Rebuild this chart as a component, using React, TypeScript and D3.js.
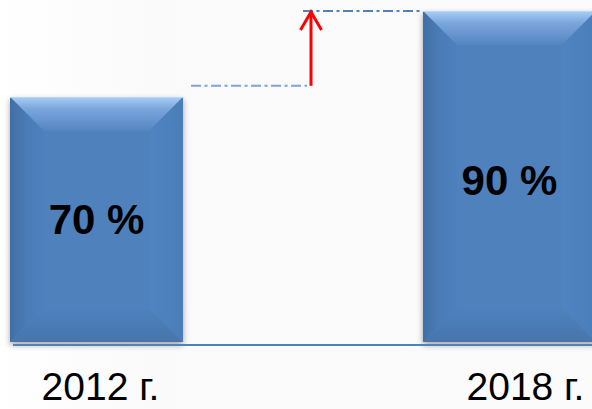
import React from "react";
import * as d3 from "d3";

const categories = ["2012 г.", "2018 г."];
const values = [70, 90];
const valueLabels = ["70 %", "90 %"];
const levelFrom = 72.6;
const levelTo = 90;

const W = 592;
const H = 409;

export default function App() {
  const x = d3.scaleBand<string>().domain(categories).range([10, 596]).paddingInner(0.581).paddingOuter(0);
  const y = d3.scaleLinear().domain([13, 90]).range([342, 11]);
  const bw = x.bandwidth();
  const base = y(13);
  const bev = 34;

  const x0 = (x(categories[0]) ?? 0) + bw;
  const x1 = x(categories[1]) ?? 0;
  const arrowX = (x0 + x1) / 2 + 8;
  const yLow = y(levelFrom);
  const yHigh = y(levelTo);

  return (
    <svg width={W} height={H} style={{ position: "absolute", left: 0, top: 0 }} fontFamily="Liberation Sans, Arial, sans-serif">
      <defs>
        <linearGradient id="bg" x1="0" x2="1" y1="0" y2="0">
          <stop offset="0" stopColor="#ffffff" />
          <stop offset="0.25" stopColor="#f8f8f8" />
          <stop offset="1" stopColor="#f9f9f9" />
        </linearGradient>
        <linearGradient id="topG" x1="0" x2="0" y1="0" y2="1">
          <stop offset="0" stopColor="#a9cdf7" />
          <stop offset="0.35" stopColor="#7aa6dc" />
          <stop offset="1" stopColor="#5585c0" />
        </linearGradient>
        <linearGradient id="leftG" x1="0" x2="1" y1="0" y2="0">
          <stop offset="0" stopColor="#416fa5" />
          <stop offset="0.5" stopColor="#4b7cb7" />
          <stop offset="1" stopColor="#4e80bc" />
        </linearGradient>
        <linearGradient id="botG" x1="0" x2="0" y1="0" y2="1">
          <stop offset="0" stopColor="#4f81bd" />
          <stop offset="1" stopColor="#4775aa" />
        </linearGradient>
        <linearGradient id="rightG" x1="0" x2="1" y1="0" y2="0">
          <stop offset="0" stopColor="#5084c1" />
          <stop offset="1" stopColor="#4b7db8" />
        </linearGradient>
        <filter id="sh" x="-10%" y="-10%" width="120%" height="120%">
          <feGaussianBlur in="SourceAlpha" stdDeviation="3" />
          <feOffset dx="0" dy="3" result="b" />
          <feComponentTransfer><feFuncA type="linear" slope="0.35" /></feComponentTransfer>
          <feMerge><feMergeNode /><feMergeNode in="SourceGraphic" /></feMerge>
        </filter>
      </defs>
      <rect x={0} y={0} width={W} height={H} fill="url(#bg)" />
      <rect x={0} y={0} width={W} height={H} fill="#ffffff" opacity={0.35} />

      {categories.map((c, i) => {
        const bx = x(c) ?? 0;
        const top = y(values[i]);
        const r = bx + bw;
        const pts = (a: number[][]) => a.map((p) => p.join(",")).join(" ");
        return (
          <g key={c} filter="url(#sh)">
            <rect x={bx} y={top} width={bw} height={base - top} fill="#4f81bd" />
            <polygon points={pts([[bx, top], [r, top], [r - bev, top + bev], [bx + bev, top + bev]])} fill="url(#topG)" />
            <polygon points={pts([[bx, top], [bx + bev, top + bev], [bx + bev, base - bev], [bx, base]])} fill="url(#leftG)" />
            <polygon points={pts([[bx, base], [bx + bev, base - bev], [r - bev, base - bev], [r, base]])} fill="url(#botG)" />
            <polygon points={pts([[r, top], [r, base], [r - bev, base - bev], [r - bev, top + bev]])} fill="url(#rightG)" />
            <rect x={bx + bev} y={top + bev} width={bw - 2 * bev} height={base - top - 2 * bev} fill="#4f81bd" />
            <line x1={bx} x2={r} y1={top + 0.5} y2={top + 0.5} stroke="#b8d6fa" strokeWidth={1} />
          </g>
        );
      })}

      {categories.map((c, i) => {
        const cx = (x(c) ?? 0) + bw / 2;
        const top = y(values[i]);
        const cy = (top + base) / 2;
        return (
          <text key={c + "v"} x={cx} y={cy + 15 + (i === 1 ? 3 : 0)} textAnchor="middle" fontSize={42} fontWeight="bold" fill="#000">
            {valueLabels[i]}
          </text>
        );
      })}

      <line x1={13} x2={W} y1={base + 3} y2={base + 3} stroke="#4f81bd" strokeWidth={2} />

      <line x1={x0 + 8} x2={arrowX - 4} y1={yLow} y2={yLow} stroke="#7ea3d6" strokeWidth={2} strokeDasharray="10 3.5 3 3.5" />
      <line x1={arrowX - 8} x2={x1} y1={yHigh} y2={yHigh} stroke="#4f81bd" strokeWidth={2} strokeDasharray="10 3.5 3 3.5" />

      <line x1={arrowX} x2={arrowX} y1={yLow} y2={yHigh + 1} stroke="#ff0000" strokeWidth={3} />
      <polyline points={`${arrowX - 10.5},${yHigh + 19} ${arrowX},${yHigh + 1} ${arrowX + 10.5},${yHigh + 19}`} fill="none" stroke="#ff0000" strokeWidth={3} />

      {categories.map((c, i) => {
        const cx = (x(c) ?? 0) + bw / 2 + (i === 0 ? 4 : 16);
        return (
          <text key={c + "l"} x={cx} y={400} textAnchor="middle" fontSize={39} fill="#000">
            {c}
          </text>
        );
      })}
    </svg>
  );
}
